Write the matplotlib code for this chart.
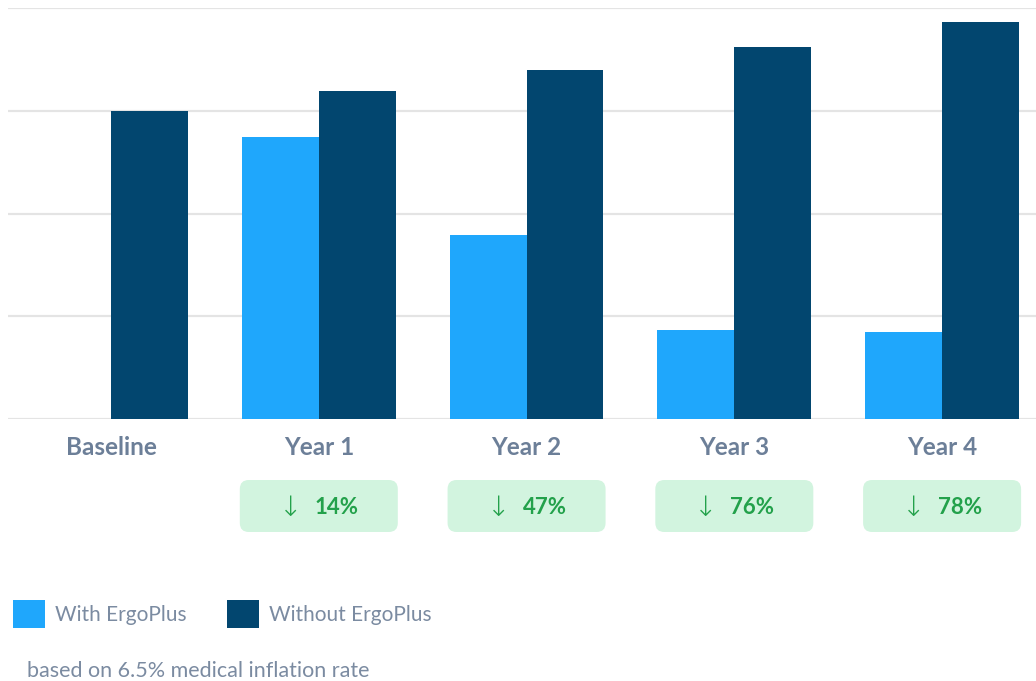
import numpy as np
from matplotlib import pyplot as plt
from matplotlib.patches import FancyBboxPatch, Rectangle

# values (gridlines at 1-unit steps)
categories = ["Baseline", "Year 1", "Year 2", "Year 3", "Year 4"]
with_ergoplus = [0.0, 2.74, 1.79, 0.87, 0.85]
without_ergoplus = [3.0, 3.19, 3.40, 3.62, 3.86]
reductions = ["", "14%", "47%", "76%", "78%"]
note = "based on 6.5% medical inflation rate"

light_blue = "#1fa7fc"
dark_blue = "#02466f"
label_grey = "#6c7f98"
text_grey = "#7b8ba1"
badge_fill = "#d2f4df"
badge_text = "#23a14b"

plt.rcParams["font.family"] = ["Lato", "DejaVu Sans"]

W, H = 1036, 681
fig = plt.figure(figsize=(W / 100, H / 100), dpi=100)
ax = fig.add_axes([8 / W, 1 - 419 / H, 1 - 8 / W, (419 - 8) / H])

x = np.arange(len(categories))
bw = 0.37
ax.bar(x - bw / 2, with_ergoplus, bw, color=light_blue, zorder=3)
ax.bar(x + bw / 2, without_ergoplus, bw, color=dark_blue, zorder=3)

ax.set_xlim(-0.496, 4.452)
ax.set_ylim(0, 4)
ax.set_yticks(range(5))
ax.yaxis.grid(True, color="#e4e4e4", linewidth=1.6, zorder=0)
for s in ax.spines.values():
    s.set_visible(False)
ax.tick_params(axis="y", length=0, labelleft=False)
ax.tick_params(axis="x", length=0, pad=12)
ax.set_xticks(x, categories, fontsize=17.5, fontweight="bold", color=label_grey)

# reduction badges under each year
for i, txt in enumerate(reductions):
    if not txt:
        continue
    cx = ax.transData.transform((x[i], 0))[0] / 100
    bx, by, bwid, bh = cx - 0.79, (H - 532) / 100, 1.58, 0.52
    fig.add_artist(FancyBboxPatch((bx + 0.08, by + 0.08), bwid - 0.16, bh - 0.16,
                                  boxstyle="round,pad=0.08,rounding_size=0.09",
                                  transform=fig.dpi_scale_trans,
                                  facecolor=badge_fill, edgecolor="none"))
    ty = by + bh / 2 - 0.02
    fig.text(cx - 0.285, ty, "\u2193", transform=fig.dpi_scale_trans, fontsize=20,
             color=badge_text, ha="center", va="center", family=["DejaVu Sans"],
             fontweight="light")
    fig.text(cx - 0.04, ty, txt, transform=fig.dpi_scale_trans, fontsize=16,
             color=badge_text, ha="left", va="center", fontweight="bold")

# legend
for lx, col, lab in [(13, light_blue, "With ErgoPlus"), (227, dark_blue, "Without ErgoPlus")]:
    fig.add_artist(Rectangle((lx / 100, (H - 628) / 100), 0.32, 0.28,
                             transform=fig.dpi_scale_trans, facecolor=col, edgecolor="none"))
    fig.text((lx + 42) / 100, (H - 615) / 100, lab, transform=fig.dpi_scale_trans,
             fontsize=15, color=text_grey, ha="left", va="center")

fig.text(27 / 100, (H - 671) / 100, note, transform=fig.dpi_scale_trans,
         fontsize=15.5, color=text_grey, ha="left", va="center")

fig.savefig("out.png", dpi=100)
